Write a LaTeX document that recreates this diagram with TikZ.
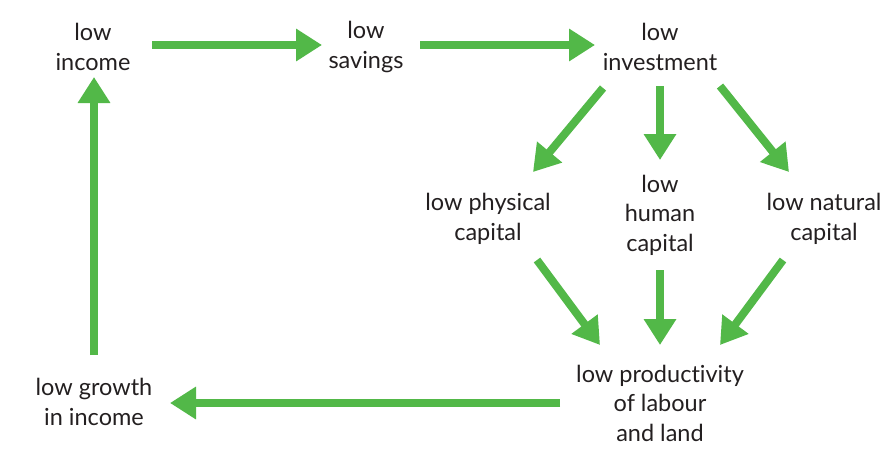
\documentclass[tikz,border=0pt]{standalone}
\usepackage{fontspec}
\setmainfont[Ligatures={NoCommon}]{Lato}
\usetikzlibrary{arrows.meta,calc}
\definecolor{arrgreen}{RGB}{82,184,72}
\definecolor{txt}{RGB}{35,31,32}
\begin{document}
\begin{tikzpicture}[x=1pt,y=-1pt,
  lbl/.style={align=center,text=txt,font=\fontsize{23.5}{29.5}\selectfont,inner sep=0pt},
  arr/.style={draw=arrgreen,line width=8pt,-{Triangle[length=26pt,width=31pt]}}]
\useasboundingbox (0,0) rectangle (896,461);
\node[lbl] (inc) at (93,47) {low\\income};
\node[lbl] (sav) at (366,47) {low\\savings};
\node[lbl] (inv) at (660,47) {low\\investment};
\node[lbl] (phys) at (488,219) {low physical\\capital};
\node[lbl] (hum) at (660,215) {low\\human\\capital};
\node[lbl] (nat) at (824,219) {low natural\\capital};
\node[lbl] (prod) at (660,403) {low productivity\\of labour\\and land};
\node[lbl] (grow) at (94,402) {low growth\\in income};
\draw[arr] ($(inc)+(59,-2)$) -- ($(sav)+(-44,-2)$);
\draw[arr] ($(sav)+(54,-2)$) -- ($(inv)+(-65,-2)$);
\draw[arr] ($(inv)+(-57,41)$) -- ($(phys)+(45,-47)$);
\draw[arr] ($(inv)+(0,39)$) -- ($(hum)+(0,-55)$);
\draw[arr] ($(inv)+(60,39)$) -- ($(nat)+(-35,-47)$);
\draw[arr] ($(phys)+(49,41)$) -- ($(prod)+(-60,-58)$);
\draw[arr] ($(hum)+(0,55)$) -- ($(prod)+(0,-58)$);
\draw[arr] ($(nat)+(-41,41)$) -- ($(prod)+(60,-58)$);
\draw[arr] ($(prod)+(-100,0)$) -- ($(grow)+(76,1)$);
\draw[arr] ($(grow)+(0,-47)$) -- ($(inc)+(1,30)$);
\end{tikzpicture}
\end{document}
